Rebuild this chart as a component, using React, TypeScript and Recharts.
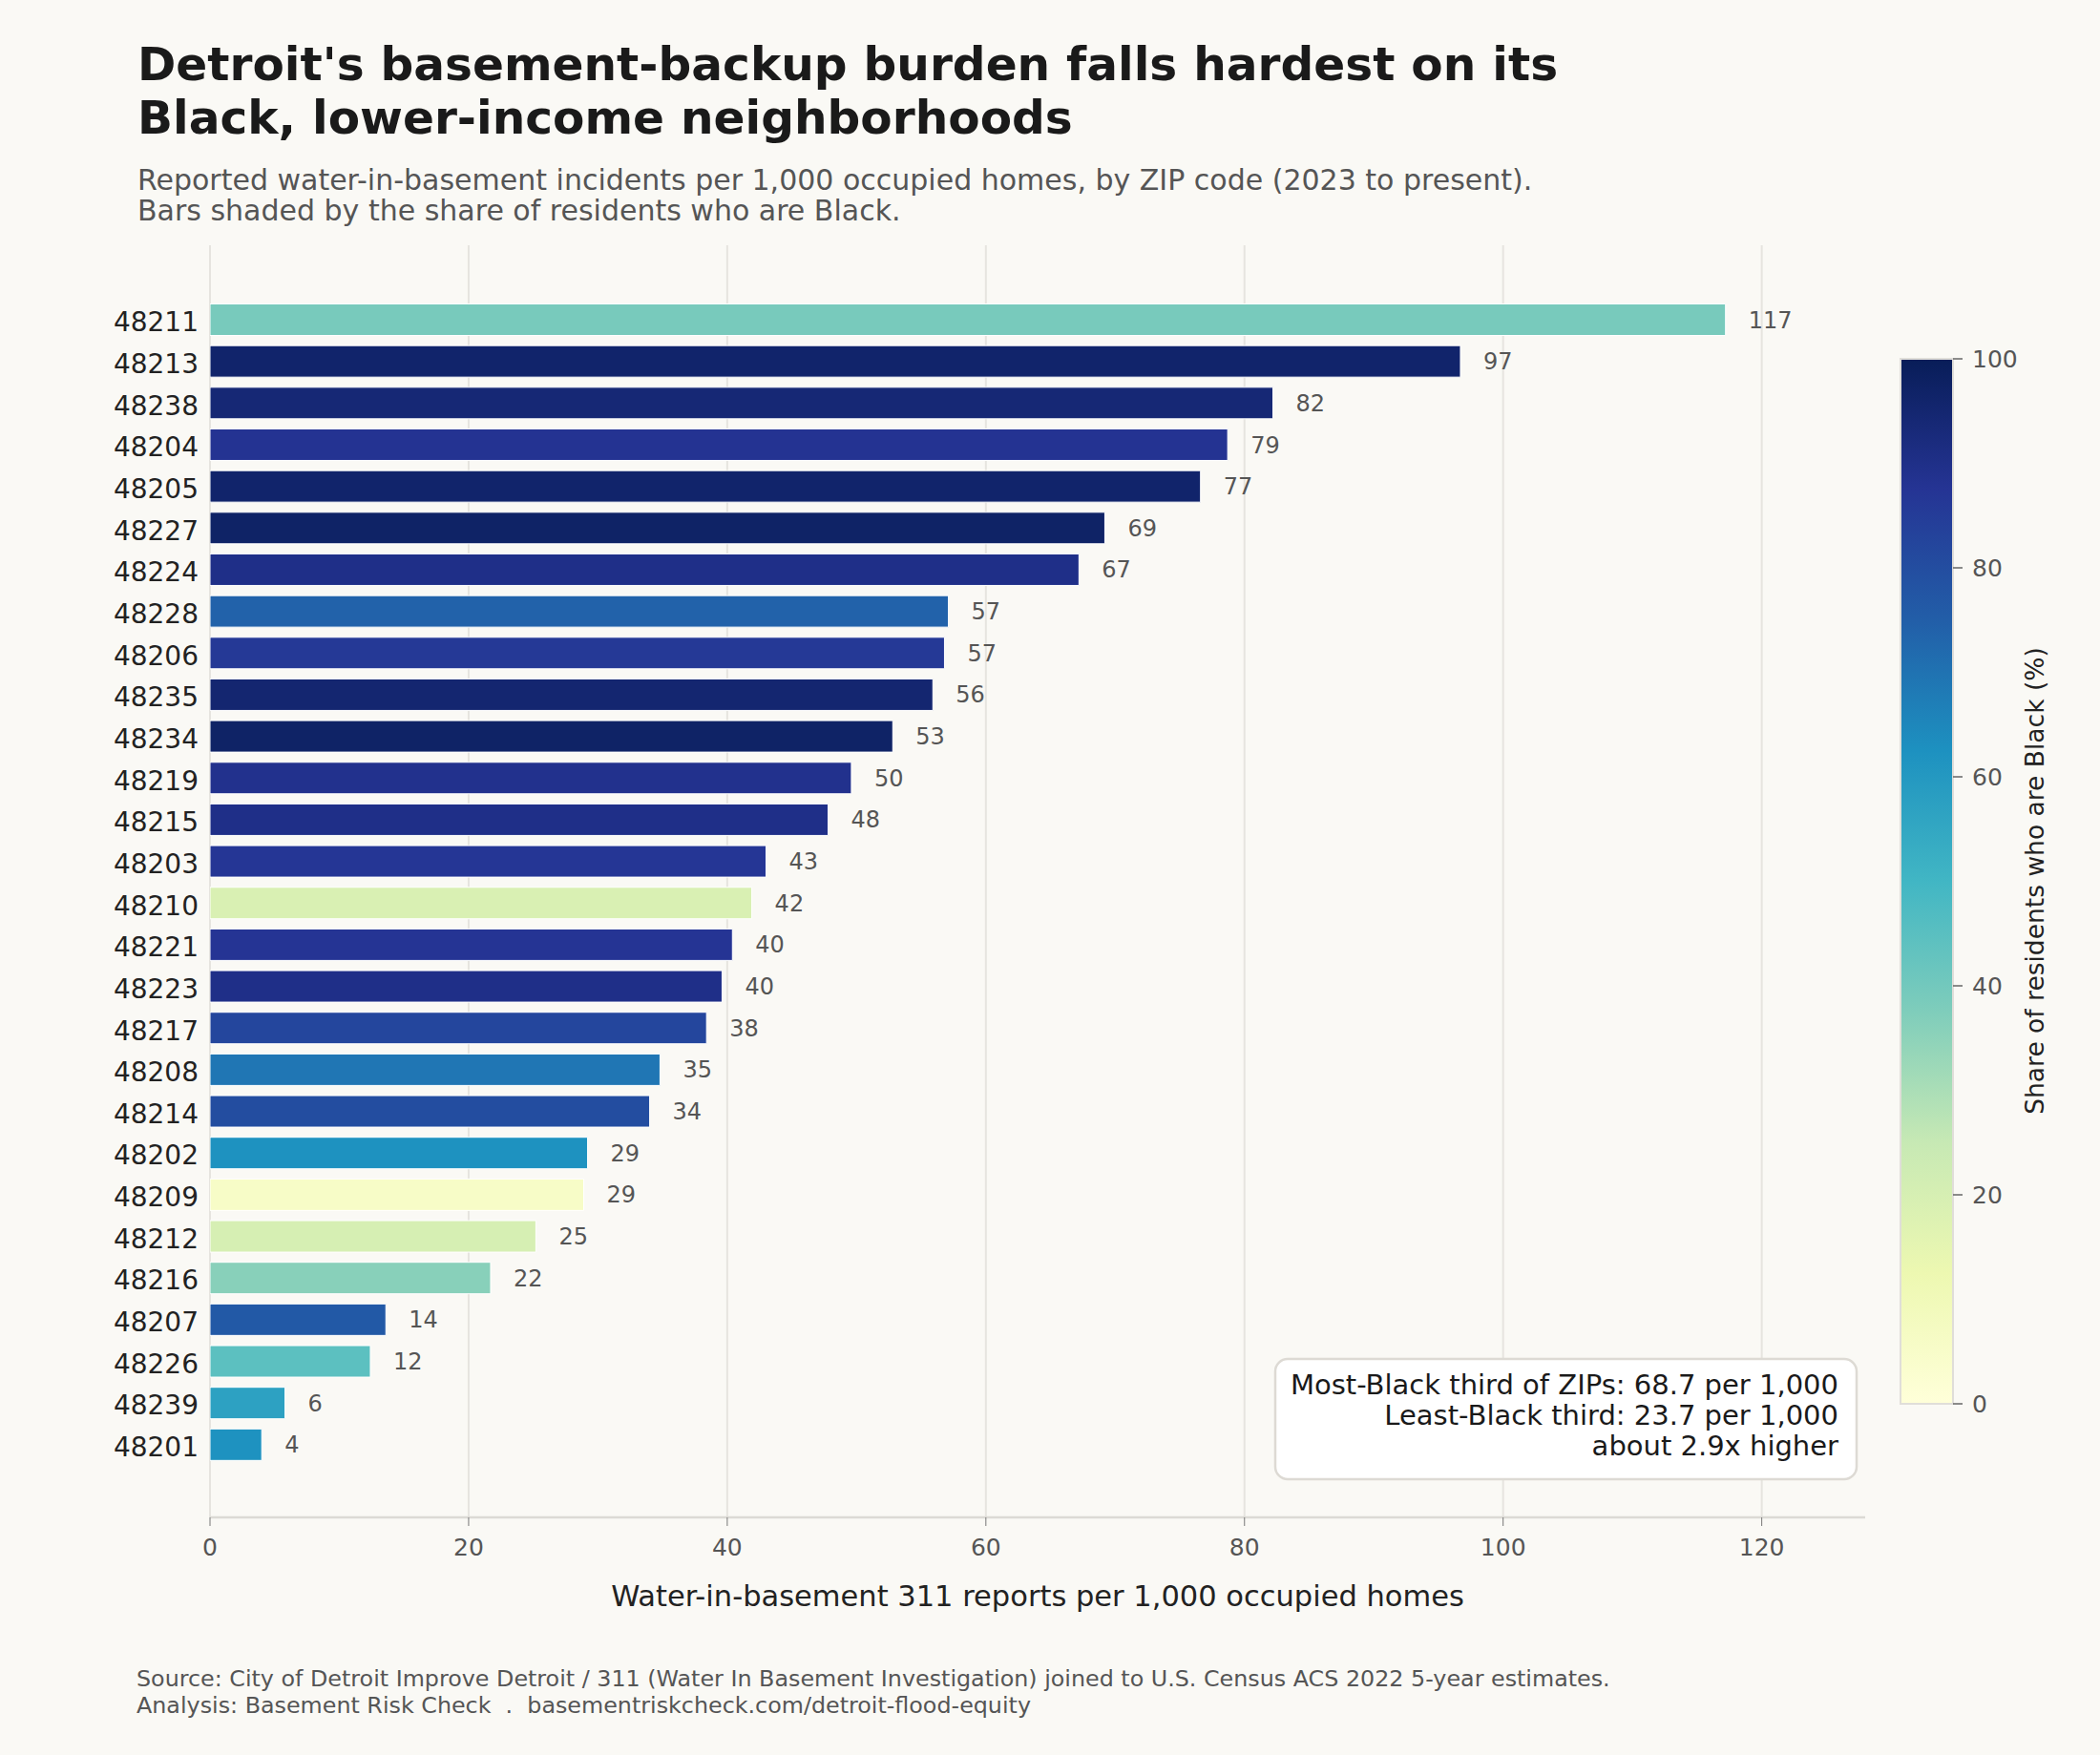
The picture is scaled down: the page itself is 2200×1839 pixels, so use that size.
import React from 'react';
import { BarChart, Bar, XAxis, YAxis, CartesianGrid, Cell, LabelList } from 'recharts';

// ZIP codes, sorted as in the chart (top to bottom)
const zips = [
  '48211', '48213', '48238', '48204', '48205', '48227', '48224', '48228', '48206', '48235',
  '48234', '48219', '48215', '48203', '48210', '48221', '48223', '48217', '48208', '48214',
  '48202', '48209', '48212', '48216', '48207', '48226', '48239', '48201',
];

// Water-in-basement 311 reports per 1,000 occupied homes
const rates = [
  117.2, 96.7, 82.2, 78.7, 76.6, 69.2, 67.2, 57.1, 56.8, 55.9,
  52.8, 49.6, 47.8, 43.0, 41.9, 40.4, 39.6, 38.4, 34.8, 34.0,
  29.2, 28.9, 25.2, 21.7, 13.6, 12.4, 5.8, 4.0,
];

// Share of residents who are Black (%)
const blackShare = [
  39, 96, 94, 88, 96, 97, 90, 74, 86, 95,
  97, 89, 90, 87, 19, 87.5, 90, 82, 69, 80,
  62, 5.5, 20, 36, 76.5, 44.5, 57, 62,
];

const xTicks = [0, 20, 40, 60, 80, 100, 120];
const colorbarTicks = [0, 20, 40, 60, 80, 100];

const titleLines = [
  "Detroit's basement-backup burden falls hardest on its",
  'Black, lower-income neighborhoods',
];
const subtitleLines = [
  'Reported water-in-basement incidents per 1,000 occupied homes, by ZIP code (2023 to present).',
  'Bars shaded by the share of residents who are Black.',
];
const noteLines = [
  'Most-Black third of ZIPs: 68.7 per 1,000',
  'Least-Black third: 23.7 per 1,000',
  'about 2.9x higher',
];
const footerLines = [
  'Source: City of Detroit Improve Detroit / 311 (Water In Basement Investigation) joined to U.S. Census ACS 2022 5-year estimates.',
  'Analysis: Basement Risk Check  .  basementriskcheck.com/detroit-flood-equity',
];
const xAxisLabel = 'Water-in-basement 311 reports per 1,000 occupied homes';
const colorbarLabel = 'Share of residents who are Black (%)';

// matplotlib YlGnBu
const YLGNBU = ['#ffffd9', '#edf8b1', '#c7e9b4', '#7fcdbb', '#41b6c4', '#1d91c0', '#225ea8', '#253494', '#081d58'];

function hexToRgb(h: string) {
  return [parseInt(h.slice(1, 3), 16), parseInt(h.slice(3, 5), 16), parseInt(h.slice(5, 7), 16)];
}
function ylgnbu(pct: number) {
  const t = Math.max(0, Math.min(1, pct / 100)) * (YLGNBU.length - 1);
  const i = Math.min(YLGNBU.length - 2, Math.floor(t));
  const f = t - i;
  const a = hexToRgb(YLGNBU[i]);
  const b = hexToRgb(YLGNBU[i + 1]);
  const c = a.map((v, k) => Math.round(v + (b[k] - v) * f));
  return `rgb(${c[0]},${c[1]},${c[2]})`;
}

const data = zips.map((zip, i) => ({ zip, rate: rates[i], share: blackShare[i] }));

const FONT = '"DejaVu Sans", sans-serif';
const BG = '#faf9f5';
const X_MAX = 128;

// colorbar geometry
const CB_X = 1991;
const CB_Y = 376;
const CB_W = 55;
const CB_H = 1095;

const gridGen = (props: any) => {
  const ax = props && props.xAxis;
  if (ax && typeof ax.scale === 'function') {
    return xTicks.map((t) => ax.scale(t));
  }
  const off = props.offset;
  return xTicks.map((t) => off.left + (t / X_MAX) * off.width);
};

export default function App() {
  return (
    <div style={{ position: 'absolute', left: 0, top: 0, width: 2200, height: 1839, background: BG, fontFamily: FONT }}>
      <BarChart
        width={2200}
        height={1839}
        data={data}
        layout="vertical"
        margin={{ top: 257, right: 246, bottom: 189, left: 100 }}
        style={{ fontFamily: FONT }}
      >
        <CartesianGrid
          vertical
          horizontal={false}
          stroke="#e6e4df"
          strokeWidth={2}
          verticalCoordinatesGenerator={gridGen}
        />
        <XAxis
          type="number"
          domain={[0, X_MAX]}
          ticks={xTicks}
          allowDataOverflow
          height={60}
          axisLine={{ stroke: '#dcdad5', strokeWidth: 2.5 }}
          tickLine={{ stroke: '#777' }}
          tickSize={9}
          tickMargin={13}
          tick={{ fontSize: 25, fill: '#555', fontFamily: FONT }}
        />
        <YAxis
          type="category"
          dataKey="zip"
          width={120}
          interval={0}
          axisLine={false}
          tickLine={false}
          tickSize={0}
          tickMargin={12}
          padding={{ top: 56.5, bottom: 54 }}
          tick={{ fontSize: 28, fill: '#222', fontFamily: FONT, dy: 2 }}
        />
        <Bar dataKey="rate" barSize={33} stroke="#ffffff" strokeWidth={1} isAnimationActive={false}>
          {data.map((d) => (
            <Cell key={d.zip} fill={ylgnbu(d.share)} />
          ))}
          <LabelList
            dataKey="rate"
            position="right"
            offset={24}
            formatter={(v: any) => String(Math.round(Number(v)))}
            style={{ fontSize: 24, fill: '#555', fontFamily: FONT }}
          />
        </Bar>
      </BarChart>

      <svg
        width={2200}
        height={1839}
        style={{ position: 'absolute', left: 0, top: 0, pointerEvents: 'none', fontFamily: FONT }}
      >
        <defs>
          <linearGradient id="cbgrad" x1="0" y1="1" x2="0" y2="0">
            {YLGNBU.map((c, i) => (
              <stop key={i} offset={i / (YLGNBU.length - 1)} stopColor={c} />
            ))}
          </linearGradient>
        </defs>

        {/* Title */}
        {titleLines.map((t, i) => (
          <text key={t} x={144} y={84 + i * 56} fontSize={48.6} fontWeight="bold" fill="#1a1a1a">
            {t}
          </text>
        ))}
        {/* Subtitle */}
        {subtitleLines.map((t, i) => (
          <text key={t} x={144} y={199 + i * 32} fontSize={30} fill="#555">
            {t}
          </text>
        ))}

        {/* x-axis label */}
        <text x={1087} y={1683} fontSize={30.5} fill="#222" textAnchor="middle">
          {xAxisLabel}
        </text>

        {/* Annotation box */}
        <rect x={1336} y={1424} width={609} height={126} rx={13} ry={13} fill="#ffffff" stroke="#dddad4" strokeWidth={2.5} />
        {noteLines.map((t, i) => (
          <text key={t} x={1926} y={1461 + i * 32} fontSize={29} fill="#1a1a1a" textAnchor="end">
            {t}
          </text>
        ))}

        {/* Colorbar */}
        <rect x={CB_X} y={CB_Y} width={CB_W} height={CB_H} fill="url(#cbgrad)" stroke="#e0ded9" strokeWidth={2} />
        {colorbarTicks.map((v) => {
          const y = CB_Y + CB_H - (v / 100) * CB_H;
          return (
            <g key={v}>
              <line x1={CB_X + CB_W} x2={CB_X + CB_W + 10} y1={y} y2={y} stroke="#666" strokeWidth={1.5} />
              <text x={CB_X + CB_W + 20} y={y} fontSize={25} fill="#555" dominantBaseline="central">
                {v}
              </text>
            </g>
          );
        })}
        <text
          x={2131}
          y={923}
          fontSize={26.5}
          fill="#222"
          textAnchor="middle"
          dominantBaseline="central"
          transform="rotate(-90 2131 923)"
        >
          {colorbarLabel}
        </text>

        {/* Footer */}
        {footerLines.map((t, i) => (
          <text key={t} x={143} y={1767 + i * 28} fontSize={23.8} fill="#555" style={{ whiteSpace: 'pre' }}>
            {t}
          </text>
        ))}
      </svg>
    </div>
  );
}
